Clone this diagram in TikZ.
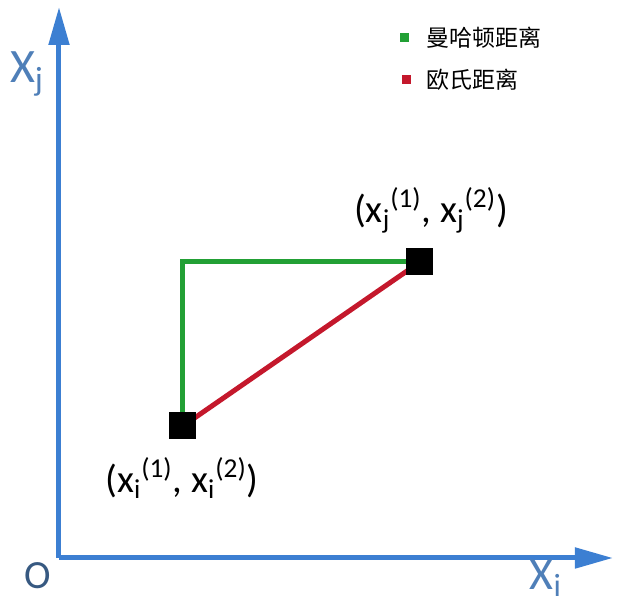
\documentclass[tikz,border=0pt]{standalone}
\usepackage{fontspec}
\setmainfont{Carlito}
\newfontfamily\cjk{Noto Sans CJK SC}
\usepackage{xcolor}
\usepackage{tikz}
\usetikzlibrary{positioning, arrows.meta, backgrounds}
\definecolor{axisBlue}{HTML}{3C7FD2}
\definecolor{labelBlue}{HTML}{4F7FB8}
\definecolor{manhGreen}{HTML}{22A035}
\definecolor{euclRed}{HTML}{C4182C}

\begin{document}
\begin{tikzpicture}[
    x=0.5pt, y=-0.5pt,
    node distance=4mm,
    axis/.style={draw=axisBlue, line width=2.5pt, -{Triangle[length=19pt, width=10pt]}},
    pt/.style={fill=black, minimum size=13.5pt, inner sep=0pt},
    legbox/.style={minimum size=4.5pt, inner sep=0pt},
    legtext/.style={font=\cjk\fontsize{11.5}{13}\selectfont, anchor=west, inner sep=0pt},
    coord/.style={font=\fontsize{19.5}{21}\selectfont, inner sep=0pt},
    manh/.style={manhGreen, line width=2.5pt},
    eucl/.style={euclRed, line width=2.5pt}]
    \useasboundingbox (0,0) rectangle (629,603);
    % axes
    \coordinate (origin) at (59,558);
    \coordinate (ytip) at (59,7);
    \coordinate (xtip) at (613,558);
    \draw[axis] (origin) -- (ytip);
    \draw[axis] (origin) -- (xtip);
    \node[text=labelBlue, font=\fontsize{24}{26}\selectfont, inner sep=0pt] (xj) at (27,74) {X\textsubscript{j}};
    \node[text=labelBlue, font=\fontsize{23}{25}\selectfont, inner sep=0pt] (xi) at (546,578) {X\textsubscript{i}};
    \node[text=labelBlue!70!black, font=\fontsize{20}{22}\selectfont, inner sep=0pt] (o) at (38,576) {O};
    % points
    \node[pt] (pi) at (183,426) {};
    \node[pt] (pj) at (420,262) {};
    \coordinate (corner) at (183,262);
    \begin{scope}[on background layer]
      \draw[manh] (pi.center) -- (corner) -- (pj.center);
      \draw[eucl] (pi.center) -- (pj.center);
    \end{scope}
    \node[coord] (lbli) at (182,478) {(x\textsubscript{i}\textsuperscript{(1)}, x\textsubscript{i}\textsuperscript{(2)})};
    \node[coord] (lblj) at (431,210) {(x\textsubscript{j}\textsuperscript{(1)}, x\textsubscript{j}\textsuperscript{(2)})};
    % legend
    \node[legbox, fill=manhGreen] (legm) at (405,38) {};
    \node[legtext, right=8pt of legm] (txtm) {曼哈顿距离};
    \node[legbox, fill=euclRed] (lege) at (407,80) {};
    \node[legtext, right=7pt of lege] (txte) {欧氏距离};
  \end{tikzpicture}
\end{document}
